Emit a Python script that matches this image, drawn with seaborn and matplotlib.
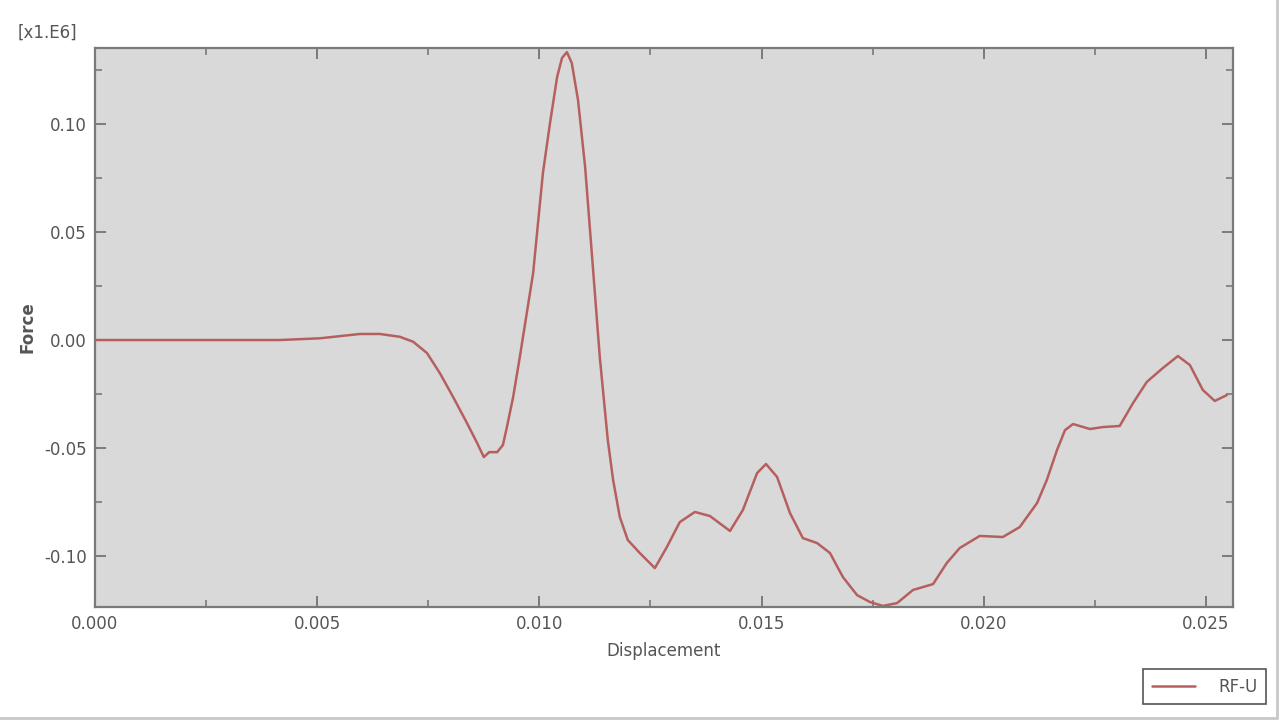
import matplotlib
matplotlib.use("Agg")
import matplotlib.pyplot as plt
from matplotlib.ticker import MultipleLocator, FormatStrFormatter
from matplotlib.lines import Line2D
import seaborn as sns
import pandas as pd

# Data (Force in units of 1e6)
displacement = [0.0, 0.00200, 0.00416, 0.00506, 0.00596, 0.00641, 0.00686, 0.00716,
                0.00747, 0.00776, 0.00806, 0.00837, 0.00860, 0.00875, 0.00887, 0.00905,
                0.00918, 0.00927, 0.00941, 0.00956, 0.00986, 0.01008, 0.01024, 0.01040,
                0.01051, 0.01062, 0.01073, 0.01087, 0.01103, 0.01118, 0.01136, 0.01154,
                0.01166, 0.01181, 0.01199, 0.01226, 0.01260, 0.01287, 0.01316, 0.01350,
                0.01384, 0.01429, 0.01458, 0.01490, 0.01510, 0.01535, 0.01564, 0.01593,
                0.01625, 0.01654, 0.01683, 0.01715, 0.01744, 0.01773, 0.01805, 0.01841,
                0.01886, 0.01917, 0.01946, 0.01991, 0.02043, 0.02081, 0.02120, 0.02142,
                0.02165, 0.02183, 0.02201, 0.02239, 0.02268, 0.02306, 0.02336, 0.02367,
                0.02403, 0.02437, 0.02464, 0.02493, 0.02520, 0.02547]
force = [0.0, 0.0, 0.0, 0.0008, 0.0028, 0.0028, 0.0015, -0.0008,
         -0.0060, -0.0153, -0.0264, -0.0384, -0.0477, -0.0542, -0.0519, -0.0519,
         -0.0486, -0.0403, -0.0264, -0.0079, 0.0310, 0.0773, 0.1005, 0.1218,
         0.1306, 0.1333, 0.1282, 0.1111, 0.0801, 0.0403, -0.0079, -0.0463,
         -0.0648, -0.0819, -0.0926, -0.0986, -0.1056, -0.0958, -0.0843, -0.0796,
         -0.0815, -0.0884, -0.0787, -0.0616, -0.0574, -0.0634, -0.0801, -0.0917,
         -0.0940, -0.0986, -0.1097, -0.1181, -0.1213, -0.1231, -0.1218, -0.1157,
         -0.1130, -0.1032, -0.0963, -0.0907, -0.0912, -0.0866, -0.0755, -0.0648,
         -0.0509, -0.0417, -0.0389, -0.0412, -0.0403, -0.0398, -0.0292, -0.0194,
         -0.0130, -0.0074, -0.0116, -0.0231, -0.0282, -0.0255]
series_name = "RF-U"
x_label = "Displacement"
y_label = "Force"
scale_label = "[x1.E6]"

df = pd.DataFrame({"Displacement": displacement, "Force": force, "series": series_name})

sns.set_style("white", {"axes.facecolor": "#d9d9d9"})
plt.rcParams["font.family"] = ["DejaVu Sans"]
plt.rcParams["axes.unicode_minus"] = False

fig = plt.figure(figsize=(12.8, 7.2), dpi=100)
ax = fig.add_axes([95 / 1280, 1 - 607 / 720, (1233 - 95) / 1280, (607 - 48) / 720])

line_color = "#b5605f"
sns.lineplot(data=df, x="Displacement", y="Force", ax=ax, sort=False, estimator=None,
             color=line_color, linewidth=1.8, legend=False)
for ln in ax.get_lines():
    ln.set_solid_joinstyle("round")

ax.set_xlim(0.0, 0.02561)
ax.set_ylim(-0.1236, 0.1352)

ax.xaxis.set_major_locator(MultipleLocator(0.005))
ax.xaxis.set_minor_locator(MultipleLocator(0.0025))
ax.yaxis.set_major_locator(MultipleLocator(0.05))
ax.yaxis.set_minor_locator(MultipleLocator(0.025))
ax.xaxis.set_major_formatter(FormatStrFormatter("%.3f"))
ax.yaxis.set_major_formatter(FormatStrFormatter("%.2f"))

spine_color = "#7a7a7a"
for s in ax.spines.values():
    s.set_color(spine_color)
    s.set_linewidth(1.6)

ax.tick_params(which="both", direction="in", top=True, right=True, bottom=True, left=True,
               color=spine_color, labelcolor="#555555", labelsize=12)
ax.tick_params(which="major", length=8, width=1.4, pad=6)
ax.tick_params(which="minor", length=5, width=1.2)

ax.set_xlabel(x_label, fontsize=12, color="#555555", labelpad=6)
ax.set_ylabel(y_label, fontsize=12, color="#555555", fontweight="bold")
ax.yaxis.set_label_coords(-(95 - 36) / 1138, 0.5)

fig.text(18 / 1280, 1 - 33 / 720, scale_label, fontsize=12, color="#555555",
         ha="left", va="center")

handle = Line2D([], [], color=line_color, linewidth=1.8)
leg = fig.legend([handle], [series_name], loc="lower right",
                 bbox_to_anchor=(1266 / 1280, 1 - 704 / 720), borderaxespad=0,
                 fancybox=False, frameon=True, edgecolor="#555555", facecolor="white",
                 framealpha=1, fontsize=12, handlelength=2.6, handletextpad=1.4,
                 borderpad=0.5)
for t in leg.get_texts():
    t.set_color("#555555")
leg.get_frame().set_linewidth(1.2)

# window frame edges at right and bottom
fig.add_artist(Line2D([1277 / 1280, 1277 / 1280], [1 - 718 / 720, 1], transform=fig.transFigure,
                      color="#c8c8c8", linewidth=2))
fig.add_artist(Line2D([0, 1277 / 1280], [1 - 718 / 720, 1 - 718 / 720], transform=fig.transFigure,
                      color="#c8c8c8", linewidth=2))

fig.savefig("out.png", dpi=100, facecolor="white")
